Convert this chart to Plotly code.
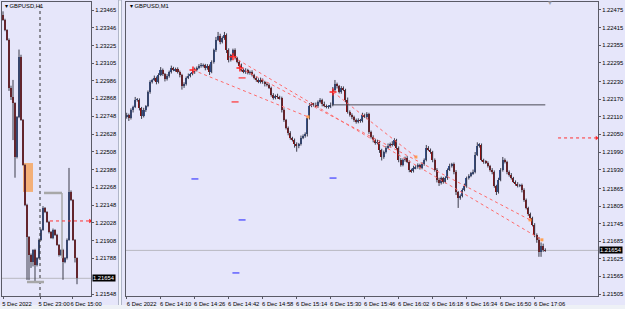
import plotly.graph_objects as go

# ---------------- Right panel (GBPUSD, M1) ----------------
m1_close = [
    1.22116, 1.22106, 1.22133, 1.22144, 1.22168, 1.22168, 1.22140, 1.22113, 1.22133, 1.22147,
    1.22195, 1.22229, 1.22236, 1.22243, 1.22229, 1.22253, 1.22270, 1.22256, 1.22239, 1.22250,
    1.22263, 1.22277, 1.22270, 1.22273, 1.22263, 1.22253, 1.22215, 1.22222, 1.22243, 1.22250,
    1.22256, 1.22263, 1.22270, 1.22277, 1.22284, 1.22284, 1.22287, 1.22277, 1.22284, 1.22263,
    1.22297, 1.22338, 1.22373, 1.22386, 1.22366, 1.22379, 1.22390, 1.22338, 1.22304, 1.22321,
    1.22338, 1.22311, 1.22297, 1.22284, 1.22270, 1.22263, 1.22270, 1.22260, 1.22263, 1.22253,
    1.22243, 1.22236, 1.22229, 1.22236, 1.22229, 1.22222, 1.22219, 1.22209, 1.22185, 1.22174,
    1.22181, 1.22178, 1.22174, 1.22133, 1.22099, 1.22072, 1.22055, 1.22038, 1.22031, 1.22017,
    1.22011, 1.22017, 1.22038, 1.22045, 1.22051, 1.22106, 1.22147, 1.22154, 1.22151, 1.22147,
    1.22161, 1.22168, 1.22154, 1.22147, 1.22144, 1.22144, 1.22151, 1.22202, 1.22222, 1.22215,
    1.22195, 1.22209, 1.22202, 1.22168, 1.22127, 1.22116, 1.22110, 1.22099, 1.22092, 1.22099,
    1.22096, 1.22116, 1.22110, 1.22120, 1.22058, 1.22041, 1.22031, 1.22021, 1.22024, 1.21997,
    1.21973, 1.21990, 1.22004, 1.22011, 1.22017, 1.22014, 1.22031, 1.22004, 1.21963, 1.21946,
    1.21963, 1.21970, 1.21956, 1.21929, 1.21925, 1.21935, 1.21939, 1.21946, 1.21935, 1.21949,
    1.21963, 1.22004, 1.21997, 1.21990, 1.21963, 1.21929, 1.21894, 1.21884, 1.21901, 1.21888,
    1.21901, 1.21929, 1.21942, 1.21949, 1.21922, 1.21853, 1.21833, 1.21840, 1.21860, 1.21874,
    1.21901, 1.21908, 1.21918, 1.21922, 1.21980, 1.22011, 1.22014, 1.21963, 1.21956, 1.21953,
    1.21942, 1.21929, 1.21922, 1.21874, 1.21853, 1.21894, 1.21929, 1.21963, 1.21956, 1.21922,
    1.21912, 1.21901, 1.21888, 1.21881, 1.21874, 1.21877, 1.21860, 1.21826, 1.21799, 1.21778,
    1.21765, 1.21741, 1.21707, 1.21690, 1.21649, 1.21669, 1.21655, 1.21654,
]
m1_first_open = 1.22110
# wick lengths in points (0.00001)
m1_wick_up = [
    8, 5, 6, 4, 10, 6, 5, 4, 8, 3, 5, 6, 4, 8, 5, 6, 10, 5, 4, 6,
    5, 8, 4, 5, 6, 5, 4, 6, 5, 8, 4, 6, 8, 5, 6, 10, 5, 4, 6, 5,
    6, 5, 10, 14, 8, 6, 10, 5, 6, 4, 5, 6, 4, 5, 8, 5, 6, 4, 5, 6,
    4, 5, 6, 8, 5, 4, 6, 5, 4, 6, 5, 8, 4, 5, 6, 4, 5, 6, 4, 5,
    6, 4, 8, 5, 6, 5, 10, 6, 4, 8, 5, 6, 4, 8, 5, 6, 8, 10, 14, 5,
    4, 6, 5, 4, 8, 5, 6, 4, 5, 6, 4, 8, 5, 6, 4, 5, 6, 4, 8, 5,
    4, 5, 6, 8, 5, 10, 6, 4, 5, 6, 5, 4, 6, 5, 4, 8, 6, 5, 4, 6,
    5, 10, 6, 5, 4, 5, 6, 8, 5, 4, 6, 5, 8, 4, 5, 6, 4, 5, 6, 8,
    5, 6, 4, 8, 10, 12, 6, 5, 4, 6, 5, 4, 6, 5, 4, 8, 6, 10, 5, 4,
    5, 6, 4, 5, 6, 4, 5, 6, 5, 4, 5, 4, 6, 5, 10, 12, 8, 6,
]
m1_wick_dn = [
    6, 10, 5, 8, 4, 6, 8, 10, 5, 6, 4, 6, 5, 4, 8, 5, 4, 6, 8, 5,
    6, 5, 4, 6, 5, 8, 12, 6, 5, 4, 5, 4, 6, 5, 4, 6, 5, 8, 6, 10,
    4, 5, 6, 4, 8, 5, 6, 10, 8, 5, 6, 5, 4, 6, 5, 4, 6, 5, 6, 5,
    5, 6, 4, 5, 6, 8, 5, 4, 6, 5, 4, 6, 5, 8, 6, 5, 8, 6, 5, 12,
    20, 8, 5, 4, 6, 8, 5, 4, 6, 5, 6, 5, 8, 4, 5, 6, 4, 5, 6, 8,
    5, 6, 4, 8, 6, 5, 8, 6, 5, 4, 6, 5, 4, 8, 6, 5, 8, 6, 5, 10,
    12, 6, 5, 4, 6, 5, 4, 6, 8, 6, 5, 6, 4, 8, 6, 5, 4, 6, 5, 4,
    6, 5, 4, 6, 8, 6, 8, 10, 5, 6, 5, 6, 4, 5, 8, 10, 34, 6, 5, 4,
    6, 5, 4, 6, 5, 4, 6, 5, 6, 4, 5, 6, 8, 6, 10, 5, 4, 6, 5, 8,
    6, 5, 4, 6, 5, 4, 8, 6, 5, 6, 6, 5, 8, 10, 17, 17, 6, 5,
]
m1_tick_idx = [0, 16, 32, 48, 64, 80, 96, 112, 128, 144, 160, 176, 192]
m1_tick_text = ["6 Dec 2022", "6 Dec 14:10", "6 Dec 14:26", "6 Dec 14:42", "6 Dec 14:58",
                "6 Dec 15:14", "6 Dec 15:30", "6 Dec 15:46", "6 Dec 16:02", "6 Dec 16:18",
                "6 Dec 16:34", "6 Dec 16:50", "6 Dec 17:06"]
m1_price_ticks = ["1.22475", "1.22415", "1.22355", "1.22295", "1.22230", "1.22170", "1.22110",
                  "1.22050", "1.21990", "1.21930", "1.21865", "1.21805", "1.21745", "1.21685",
                  "1.21625", "1.21565", "1.21505"]
m1_range = [1.214982, 1.225023]

# objects on M1 chart: trend lines (start idx, start price, end idx, end price)
m1_trend_lines = [
    (31.2, 1.22270, 85.3, 1.22110),
    (50.0, 1.22315, 195.4, 1.21690),
    (53.3, 1.22277, 189.8, 1.21758),
    (97.1, 1.22195, 136.1, 1.21973),
]
m1_red_x = [31.2, 50.0, 53.3, 97.1]
m1_red_y = [1.22270, 1.22315, 1.22277, 1.22195]
m1_orange_x = [85.3, 136.1, 189.8, 195.4]
m1_orange_y = [1.22110, 1.21973, 1.21758, 1.21690]
m1_red_dash_x = [54.3, 51.0]
m1_red_dash_y = [1.22243, 1.22161]
m1_blue_dash_x = [32.1, 54.3, 51.4, 97.1]
m1_blue_dash_y = [1.21898, 1.21758, 1.21577, 1.21901]
m1_hline = (96.7, 197.0, 1.22151)
m1_arrow = (203.0, 221.2, 1.22038)
bid_price = 1.21654
bid_label = "1.21654"

# ---------------- Left panel (GBPUSD, H1) ----------------
h1_close = [
    1.23398, 1.23330, 1.23263, 1.22939, 1.22878, 1.22837, 1.22473, 1.22743, 1.23148, 1.22723,
    1.22419, 1.22149, 1.21933, 1.21811, 1.21764, 1.21845, 1.21744, 1.21791, 1.21913, 1.21980,
    1.22129, 1.22102, 1.22034, 1.21967, 1.21926, 1.21980, 1.21946, 1.21879, 1.21811, 1.21845,
    1.21764, 1.21791, 1.21913, 1.22237, 1.22183, 1.21913, 1.21791, 1.21654,
]
h1_first_open = 1.23431
h1_wick_up = [25, 8, 5, 10, 15, 115, 5, 6, 50, 15, 6, 5, 8, 6, 10, 5, 8, 6, 10, 8,
              12, 6, 5, 8, 6, 10, 5, 8, 6, 5, 8, 6, 10, 162, 10, 5, 6, 4]
h1_wick_dn = [6, 8, 5, 20, 20, 250, 140, 10, 8, 6, 5, 8, 290, 169, 40, 30, 115, 10, 8, 6,
              5, 8, 6, 10, 5, 8, 6, 5, 10, 6, 120, 8, 10, 6, 8, 6, 30, 40]
h1_tick_idx = [0, 18.5, 34.5]
h1_tick_text = ["5 Dec 2022", "5 Dec 23:00", "6 Dec 15:00"]
h1_price_ticks = ["1.23465", "1.23346", "1.23225", "1.23105", "1.22986", "1.22868", "1.22748",
                  "1.22628", "1.22508", "1.22388", "1.22268", "1.22148", "1.22028", "1.21908",
                  "1.21788", "1.21548"]
h1_range = [1.215345, 1.23519]
h1_vline_idx = 18.5
h1_box = (10.0, 15.0, 1.22432, 1.22237)
h1_gray_top = (20.5, 29.5, 1.22230)
h1_gray_side = (29.5, 1.22230, 1.21790)
h1_gray_bottom = (12.0, 20.5, 1.21629)
h1_arrow = (23.5, 43.6, 1.22041)

BG = "#e6e6fa"
UP_FILL = "#34508f"
DN_FILL = "#8b1010"
WICK = "#3c3c4a"
FONT = "Liberation Sans"
TXT = dict(family=FONT, size=5.8, color="#000000")


def add_candles(fig, closes, first_open, up, dn, xa, ya, body_w):
    n = len(closes)
    xs = list(range(n))
    opens = [first_open] + closes[:-1]
    highs = [max(o, c) + u * 1e-5 for o, c, u in zip(opens, closes, up)]
    lows = [min(o, c) - d * 1e-5 for o, c, d in zip(opens, closes, dn)]
    wx, wy = [], []
    for i in xs:
        wx += [i, i, None]
        wy += [lows[i], highs[i], None]
    fig.add_trace(go.Scatter(x=wx, y=wy, mode="lines", line=dict(color=WICK, width=1),
                             xaxis=xa, yaxis=ya, hoverinfo="skip", showlegend=False))
    base = [min(o, c) for o, c in zip(opens, closes)]
    height = [max(abs(c - o), 1.2e-5) for o, c in zip(opens, closes)]
    colors = [UP_FILL if c >= o else DN_FILL for o, c in zip(opens, closes)]
    fig.add_trace(go.Bar(x=xs, y=height, base=base, width=body_w, marker=dict(color=colors, line=dict(width=0)),
                         xaxis=xa, yaxis=ya, hoverinfo="skip", showlegend=False))


fig = go.Figure()
add_candles(fig, h1_close, h1_first_open, h1_wick_up, h1_wick_dn, "x", "y", 0.8)
add_candles(fig, m1_close, m1_first_open, m1_wick_up, m1_wick_dn, "x2", "y2", 0.75)

shapes = []
shapes.append(dict(type="line", xref="x domain", yref="y", x0=0, x1=1, y0=bid_price, y1=bid_price,
                   line=dict(color="#b8b8c0", width=1), layer="below"))
shapes.append(dict(type="line", xref="x2 domain", yref="y2", x0=0, x1=1, y0=bid_price, y1=bid_price,
                   line=dict(color="#b8b8c0", width=1), layer="below"))
shapes.append(dict(type="line", xref="x", yref="y domain", x0=h1_vline_idx, x1=h1_vline_idx, y0=0, y1=1,
                   line=dict(color="#333333", width=1, dash="dot")))
shapes.append(dict(type="rect", xref="x", yref="y", x0=h1_box[0], x1=h1_box[1], y0=h1_box[2], y1=h1_box[3],
                   fillcolor="#f4a460", opacity=0.85, line=dict(width=0), layer="below"))
shapes.append(dict(type="line", xref="x", yref="y", x0=h1_gray_top[0], x1=h1_gray_top[1],
                   y0=h1_gray_top[2], y1=h1_gray_top[2], line=dict(color="#a8a8a8", width=2.5)))
shapes.append(dict(type="line", xref="x", yref="y", x0=h1_gray_side[0], x1=h1_gray_side[0],
                   y0=h1_gray_side[1], y1=h1_gray_side[2], line=dict(color="#a8a8a8", width=1.5)))
shapes.append(dict(type="line", xref="x", yref="y", x0=h1_gray_bottom[0], x1=h1_gray_bottom[1],
                   y0=h1_gray_bottom[2], y1=h1_gray_bottom[2], line=dict(color="#a8a8a8", width=2.5)))
shapes.append(dict(type="line", xref="x", yref="y", x0=h1_arrow[0], x1=h1_arrow[1],
                   y0=h1_arrow[2], y1=h1_arrow[2], line=dict(color="#ff3030", width=1, dash="dot")))
for (xa, ya, xb, yb) in m1_trend_lines:
    shapes.append(dict(type="line", xref="x2", yref="y2", x0=xa, x1=xb, y0=ya, y1=yb,
                       line=dict(color="#ff6a6a", width=1, dash="dot")))
shapes.append(dict(type="line", xref="x2", yref="y2", x0=m1_hline[0], x1=m1_hline[1],
                   y0=m1_hline[2], y1=m1_hline[2], line=dict(color="#4a4a55", width=1)))
shapes.append(dict(type="line", xref="x2", yref="y2", x0=m1_arrow[0], x1=m1_arrow[1],
                   y0=m1_arrow[2], y1=m1_arrow[2], line=dict(color="#ff3030", width=1, dash="dot")))
shapes.append(dict(type="rect", xref="paper", yref="paper", x0=118.5 / 625, x1=121.5 / 625, y0=0, y1=1,
                   fillcolor="#f3f5fb", line=dict(color="#b0b6c8", width=1), layer="below"))
shapes.append(dict(type="rect", xref="paper", yref="paper", x0=0, x1=1, y0=0, y1=4 / 309,
                   fillcolor="#eef1f6", line=dict(width=0), layer="below"))

fig.add_trace(go.Scatter(x=m1_red_x, y=m1_red_y, xaxis="x2", yaxis="y2", mode="markers",
                         marker=dict(symbol="cross-thin", size=5, line=dict(color="#ff2020", width=1.5)),
                         hoverinfo="skip", showlegend=False))
fig.add_trace(go.Scatter(x=m1_orange_x, y=m1_orange_y, xaxis="x2", yaxis="y2", mode="markers",
                         marker=dict(symbol="square", size=3, color="#ffa050"),
                         hoverinfo="skip", showlegend=False))
fig.add_trace(go.Scatter(x=m1_red_dash_x, y=m1_red_dash_y, xaxis="x2", yaxis="y2", mode="markers",
                         marker=dict(symbol="line-ew", size=5, line=dict(color="#ff3030", width=1.2)),
                         hoverinfo="skip", showlegend=False))
fig.add_trace(go.Scatter(x=m1_blue_dash_x, y=m1_blue_dash_y, xaxis="x2", yaxis="y2", mode="markers",
                         marker=dict(symbol="line-ew", size=5, line=dict(color="#6060ff", width=1.5)),
                         hoverinfo="skip", showlegend=False))
fig.add_trace(go.Scatter(x=[m1_arrow[1]], y=[m1_arrow[2]], xaxis="x2", yaxis="y2", mode="markers",
                         marker=dict(symbol="triangle-right", size=4, color="#ff2020"),
                         hoverinfo="skip", showlegend=False))
fig.add_trace(go.Scatter(x=[h1_arrow[1]], y=[h1_arrow[2]], xaxis="x", yaxis="y", mode="markers",
                         marker=dict(symbol="triangle-right", size=4, color="#ff2020"),
                         hoverinfo="skip", showlegend=False))

annotations = [
    dict(xref="paper", yref="paper", x=3 / 625, y=1 - 6 / 309, text="▾ GBPUSD,H1", showarrow=False,
         xanchor="left", yanchor="middle", font=dict(family=FONT, size=5.8, color="#000")),
    dict(xref="paper", yref="paper", x=128 / 625, y=1 - 6 / 309, text="▾ GBPUSD,M1", showarrow=False,
         xanchor="left", yanchor="middle", font=dict(family=FONT, size=5.8, color="#000")),
    dict(xref="paper", yref="paper", x=550 / 625, y=1 - 3 / 309, text="▼", showarrow=False,
         xanchor="center", yanchor="middle", font=dict(family=FONT, size=6, color="#a0a0a8")),
    dict(xref="paper", yref="y", x=92 / 625, y=bid_price, text=bid_label, showarrow=False,
         xanchor="left", yanchor="middle", bgcolor="#000000", borderpad=0,
         font=dict(family=FONT, size=5.8, color="#ffffff")),
    dict(xref="paper", yref="y2", x=599 / 625, y=bid_price, text=bid_label, showarrow=False,
         xanchor="left", yanchor="middle", bgcolor="#000000", borderpad=0,
         font=dict(family=FONT, size=5.8, color="#ffffff")),
]

ydom = [13 / 309, 307 / 309]
axis_common = dict(showgrid=False, zeroline=False, showline=True, linecolor="#5a5a66", linewidth=1,
                   mirror=True, ticks="outside", ticklen=2, tickcolor="#5a5a66", tickfont=TXT,
                   automargin=False, fixedrange=True)

fig.update_layout(
    width=625, height=309, margin=dict(l=0, r=0, t=0, b=0, autoexpand=False),
    paper_bgcolor=BG, plot_bgcolor=BG, showlegend=False, bargap=0,
    shapes=shapes, annotations=annotations,
    xaxis=dict(domain=[2 / 625, 91 / 625], range=[-0.5, 44], anchor="y",
               tickmode="array", tickvals=h1_tick_idx, ticktext=h1_tick_text, tickangle=0,
               ticklabelshift=14, ticklabelstandoff=0, **axis_common),
    yaxis=dict(domain=ydom, range=h1_range, side="right", anchor="x",
               tickmode="array", tickvals=[float(v) for v in h1_price_ticks], ticktext=h1_price_ticks,
               ticklabelstandoff=0, **axis_common),
    xaxis2=dict(domain=[126 / 625, 598 / 625], range=[-0.33, 221.8], anchor="y2",
                tickmode="array", tickvals=m1_tick_idx, ticktext=m1_tick_text, tickangle=0,
                ticklabelshift=15, ticklabelstandoff=0, **axis_common),
    yaxis2=dict(domain=ydom, range=m1_range, side="right", anchor="x2",
                tickmode="array", tickvals=[float(v) for v in m1_price_ticks], ticktext=m1_price_ticks,
                ticklabelstandoff=0, **axis_common),
)

fig.write_html("out.html")
